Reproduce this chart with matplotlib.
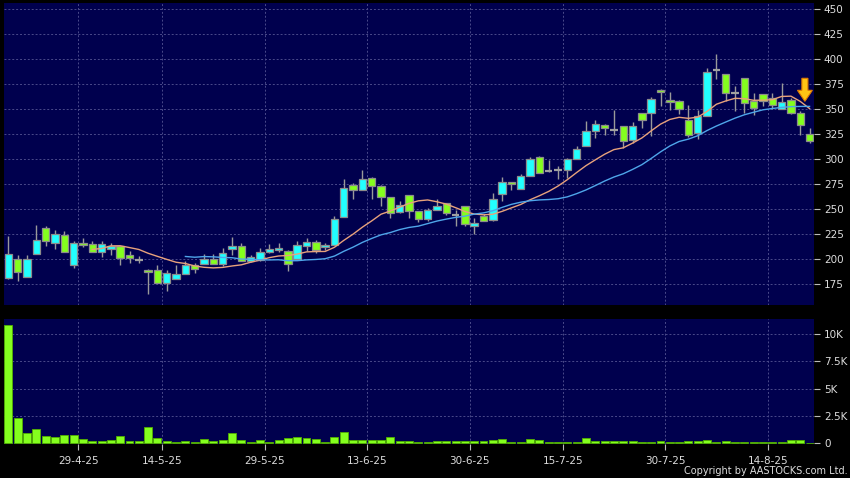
import matplotlib
matplotlib.use("Agg")
import matplotlib.pyplot as plt
from matplotlib.patches import FancyArrow
import numpy as np
import pandas as pd

# daily candles (HKD), oldest first
opens = [181, 200, 182, 205, 231, 216.5, 224, 194, 215.8, 215.5, 207, 210, 213, 204.5, 199.5, 189.5, 189.5, 176, 180, 185,
         194.5, 195, 200, 195, 210, 213, 198.5, 199.5, 207, 209, 208.5, 200.5, 213.5, 217, 212, 214.5, 242, 274.5, 269.5, 281,
         273.5, 262, 247, 264, 248, 240, 249, 256, 244.5, 253, 233, 243.5, 239.5, 265.5, 277, 270.5, 283, 302, 288, 289,
         289, 300, 313, 328.5, 334, 329.5, 333, 319.5, 346, 346, 369.5, 359.5, 358, 339.5, 326, 343.5, 389.5, 385, 366, 381,
         358, 365, 361, 350, 359, 346, 325.5]
closes = [205, 187, 200, 219, 218.5, 225, 207, 216, 213.8, 207, 215, 213, 201, 201, 199.5, 187, 176, 186, 185, 194.5,
          190, 200, 195, 206, 213.5, 198.5, 202, 207, 210, 211, 195, 214, 217, 209.5, 214.5, 240, 271, 269.5, 280, 273.5,
          262, 246, 254.5, 248, 240, 249, 253, 246, 244.5, 235.5, 236, 238.5, 260, 277, 275, 283, 300, 286, 288, 289,
          300, 310, 328.5, 335, 331, 329.5, 318, 333, 339.5, 360, 367, 357, 350, 324.5, 343, 387, 389.5, 366, 366, 356,
          351, 358.5, 354.5, 357, 346, 334.5, 318]
highs = [223, 204, 204, 234, 233, 229.5, 228.5, 218.5, 221, 218.5, 218.5, 216, 213.5, 208.5, 203, 190, 194, 189.5, 194.5, 198,
         196, 205, 205, 211, 222, 216, 204.5, 211, 215, 216, 209.5, 218.5, 221, 219.5, 216, 243, 280, 276, 289.5, 282,
         274, 262, 258, 264, 248.5, 251, 260, 256.5, 249.5, 253, 241, 245, 266, 282, 277.5, 285, 302, 303.5, 299.5, 293.5,
         301, 313.5, 338.5, 339.5, 335, 349.5, 333, 337, 346.5, 362, 370, 367, 359, 354.5, 349.5, 391, 405.5, 385.5, 373, 381.5,
         366, 365.5, 366, 376, 361, 348, 331]
lows = [180, 178, 182, 205, 213, 210.5, 207, 191, 212, 207, 202, 204.5, 194.5, 196, 196, 165, 176, 168, 180, 185,
        186, 195, 195, 193, 204.5, 198.5, 197, 198, 206, 207, 188, 200.5, 208, 206, 209, 214, 242, 260, 269.5, 260,
        253.5, 241, 246, 241, 237, 238, 249, 244.5, 233, 233.5, 225, 238, 238, 258, 269, 270.5, 283, 286, 287.5, 280,
        281, 300, 313, 321, 324.5, 324.5, 311, 316, 331, 323, 353, 349.5, 345, 322, 320, 343.5, 380, 358, 348, 346,
        344.5, 353.5, 350, 350, 345, 324.5, 316]
volumes = [10840, 2290, 916, 1313, 672, 550, 733, 763, 397, 214, 214, 275, 672, 214, 183, 1527, 489, 214, 153, 214,
           122, 428, 214, 275, 916, 305, 92, 275, 122, 336, 458, 565, 458, 366, 153, 550, 1007, 305, 275, 275,
           305, 580, 244, 214, 122, 153, 214, 214, 214, 214, 214, 244, 336, 427, 122, 122, 366, 275, 153, 153,
           153, 153, 458, 183, 183, 214, 183, 183, 153, 153, 183, 92, 122, 183, 183, 336, 153, 214, 153, 153,
           153, 153, 153, 153, 336, 336, 60]

date_labels = ['29-4-25', '14-5-25', '29-5-25', '13-6-25', '30-6-25', '15-7-25', '30-7-25', '14-8-25']
date_idx = [7, 16, 27, 38, 49, 59, 70, 81]

price_ticks = [175, 200, 225, 250, 275, 300, 325, 350, 375, 400, 425, 450]
vol_ticks = [0, 2500, 5000, 7500, 10000]
vol_tick_labels = ['0', '2.5K', '5K', '7.5K', '10K']

df = pd.DataFrame({'o': opens, 'h': highs, 'l': lows, 'c': closes, 'v': volumes})
df['ma10'] = df['c'].rolling(10).mean()
df['ma20'] = df['c'].rolling(20).mean()
x = np.arange(len(df))

BG = '#00004E'
GRID = '#4A4A8A'
TXT = '#DCDCDC'
CYAN = '#22FFFF'
GREEN = '#84FF1E'
EDGE = '#8C8C8C'

fig = plt.figure(figsize=(8.5, 4.78), dpi=100, facecolor='black')
ax = fig.add_axes([0.0044, 0.3609, 0.9535, 0.6328], facecolor=BG)
axv = fig.add_axes([0.0044, 0.0701, 0.9535, 0.2626], facecolor=BG)

# --- price panel ---
ax.vlines(x, df['l'], df['h'], color='#9A9A9A', linewidth=1, zorder=2)
up = df['c'] > df['o']
down = df['c'] < df['o']
flat = df['c'] == df['o']
w = 0.8
ax.bar(x[up], (df['c'] - df['o'])[up], bottom=df['o'][up], width=w,
       color=CYAN, edgecolor=EDGE, linewidth=0.9, zorder=3)
ax.bar(x[down], (df['o'] - df['c'])[down], bottom=df['c'][down], width=w,
       color=GREEN, edgecolor=EDGE, linewidth=0.9, zorder=3)
ax.hlines(df['c'][flat], x[flat] - w / 2, x[flat] + w / 2, color='#A0A0A0', linewidth=1.6, zorder=3)

ax.plot(x, df['ma10'], color='#E8A27C', linewidth=1, zorder=4)
ax.plot(x, df['ma20'], color='#4FA6EA', linewidth=1, zorder=4)

# sell signal arrow
sig_x, sig_y = 85.5, 358
ax.add_patch(FancyArrow(sig_x, sig_y + 23, 0, -23, width=0.65, head_width=1.6, head_length=11,
                        length_includes_head=True, facecolor='#FFC414', edgecolor='#E07A00',
                        linewidth=0.8, zorder=6))

ax.set_xlim(-0.5, 86.5)
ax.set_ylim(153.8, 456.3)
ax.set_yticks(price_ticks)
ax.set_xticks([i + 0.5 for i in date_idx])
ax.set_xticklabels([])

# --- volume panel ---
axv.bar(x, df['v'], width=0.85, color=GREEN, edgecolor='#52B000', linewidth=0.6, zorder=3)
axv.set_xlim(-0.5, 86.5)
axv.set_ylim(-110, 11386)
axv.set_yticks(vol_ticks)
axv.set_yticklabels(vol_tick_labels)
axv.set_xticks([i + 0.5 for i in date_idx])
axv.set_xticklabels(date_labels)

for a in (ax, axv):
    for s in a.spines.values():
        s.set_visible(False)
    a.yaxis.tick_right()
    a.grid(True, color=GRID, linestyle=(0, (2, 2)), linewidth=0.7)
    a.set_axisbelow(True)
    a.tick_params(axis='y', colors='#BBBBBB', labelcolor=TXT, labelsize=7.5, length=4, pad=3, direction='out')
    a.tick_params(axis='x', colors='#BBBBBB', labelcolor=TXT, labelsize=7.5, length=4, pad=4, direction='out')

# hide zero grid line in volume panel
axv.yaxis.get_gridlines()[0].set_visible(False)
ax.tick_params(axis='x', length=0)

fig.text(0.997, 0.004, 'Copyright by AASTOCKS.com Ltd.', color=TXT, fontsize=7, ha='right', va='bottom')

fig.savefig('out.png', dpi=100, facecolor='black')
